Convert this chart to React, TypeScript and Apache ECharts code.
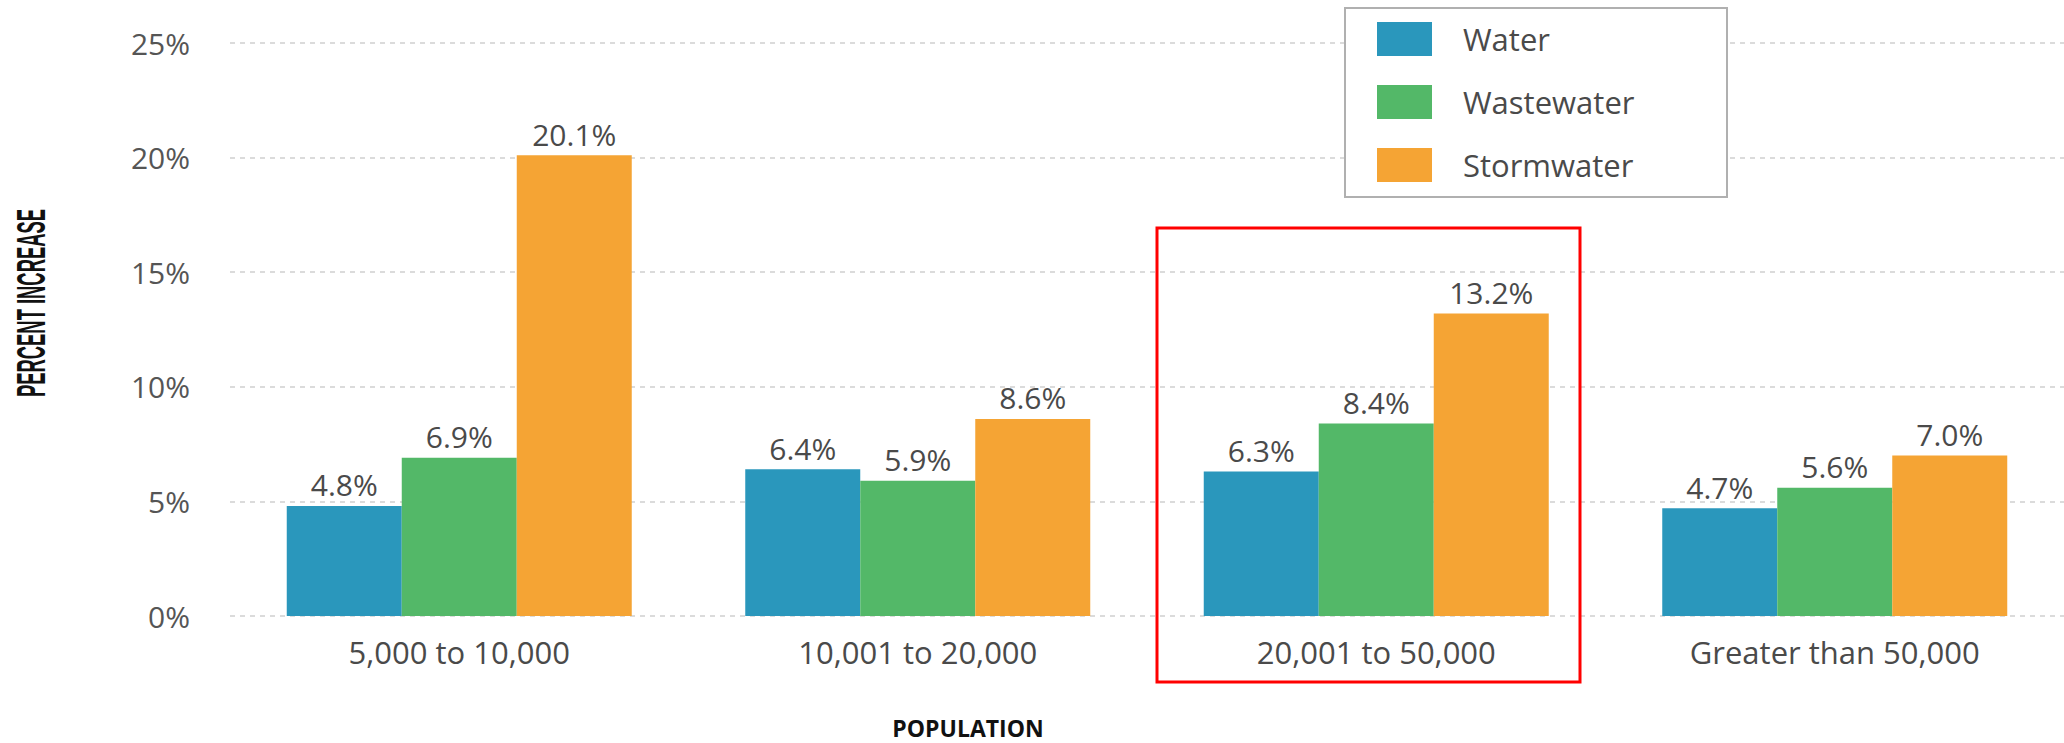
import React, { useEffect, useRef } from "react";
import * as echarts from "echarts";

const categories = ["5,000 to 10,000", "10,001 to 20,000", "20,001 to 50,000", "Greater than 50,000"];
const seriesNames = ["Water", "Wastewater", "Stormwater"];
const water = [4.8, 6.4, 6.3, 4.7];
const wastewater = [6.9, 5.9, 8.4, 5.6];
const stormwater = [20.1, 8.6, 13.2, 7.0];
const colors = ["#2a97bc", "#53b868", "#f5a434"];
const yMin = 0;
const yMax = 25;
const yStep = 5;
const yTitle = "PERCENT INCREASE";
const xTitle = "POPULATION";

const FONT = "'Open Sans', sans-serif";
const TEXT = "#4a4a4a";

export default function App() {
  const ref = useRef<HTMLDivElement>(null);
  useEffect(() => {
    if (!ref.current) return;
    const chart = echarts.init(ref.current, undefined, { renderer: "svg" });
    const values = [water, wastewater, stormwater];
    chart.setOption({
      animation: false,
      backgroundColor: "#ffffff",
      grid: { left: 230, right: -10, top: 43, bottom: 127, containLabel: false },
      legend: {
        orient: "vertical",
        left: 1377,
        top: 22,
        padding: 0,
        itemWidth: 55,
        itemHeight: 34,
        itemGap: 29,
        icon: "rect",
        z: 10,
        data: seriesNames,
        textStyle: { fontSize: 31, color: TEXT, fontFamily: FONT, padding: [0, 0, 0, 26] },
      },
      xAxis: {
        type: "category",
        data: categories,
        axisLine: { show: false },
        axisTick: { show: false },
        axisLabel: { fontSize: 31, color: TEXT, fontFamily: FONT, margin: 20, interval: 0 },
      },
      yAxis: {
        type: "value",
        min: yMin,
        max: yMax,
        interval: yStep,
        axisLine: { show: false },
        axisTick: { show: false },
        axisLabel: { formatter: "{value}%", fontSize: 30, color: "#555555", fontFamily: FONT, margin: 40 },
        splitLine: { lineStyle: { type: [5, 5], color: "#cfcfcf", width: 1.5 } },
      },
      series: seriesNames.map((name, i) => ({
        name,
        type: "bar",
        data: values[i],
        barWidth: 115,
        barGap: "0%",
        itemStyle: { color: colors[i] },
        label: {
          show: true,
          position: "top",
          distance: 6,
          fontSize: 30,
          color: TEXT,
          fontFamily: FONT,
          formatter: (p: any) => Number(p.value).toFixed(1) + "%",
        },
      })),
      graphic: [
        {
          type: "rect",
          z: 5,
          shape: { x: 1345, y: 8, width: 382, height: 189 },
          style: { fill: "#ffffff", stroke: "#b0b0b0", lineWidth: 2 },
        },
        {
          type: "rect",
          z: 20,
          shape: { x: 1157, y: 228, width: 423, height: 454 },
          style: { fill: "none", stroke: "#ff0000", lineWidth: 3 },
        },
        {
          type: "text",
          z: 20,
          x: 32,
          y: 303,
          rotation: Math.PI / 2,
          scaleX: 0.46,
          style: {
            text: yTitle,
            fontSize: 40,
            fontWeight: "bold",
            fontFamily: "'Liberation Sans Narrow', sans-serif",
            fill: "#111111",
            textAlign: "center",
            textVerticalAlign: "middle",
          },
        },
        {
          type: "text",
          z: 20,
          x: 968,
          y: 728,
          style: {
            text: xTitle,
            fontSize: 23,
            fontWeight: "bold",
            fontFamily: FONT,
            fill: "#111111",
            textAlign: "center",
            textVerticalAlign: "middle",
          },
        },
      ],
    });
    return () => chart.dispose();
  }, []);
  return (
    <div
      ref={ref}
      style={{ position: "absolute", left: 0, top: 0, width: 2064, height: 743, background: "#fff" }}
    />
  );
}
